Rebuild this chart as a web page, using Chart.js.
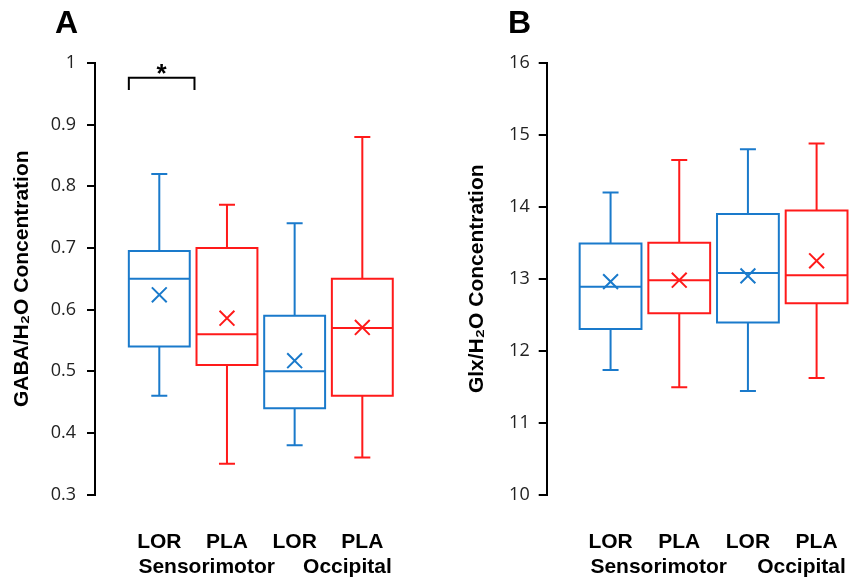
<!DOCTYPE html>
<html><head><meta charset="utf-8">
<script src="https://cdn.jsdelivr.net/npm/chart.js@4.4.1/dist/chart.umd.min.js"></script>
<style>
html,body{margin:0;padding:0;background:#fff;width:853px;height:582px;overflow:hidden}
#wa{position:absolute;left:0;top:0;width:430px;height:582px}
#wb{position:absolute;left:430px;top:0;width:423px;height:582px}
canvas{display:block}
</style></head><body>
<div id="wa"><canvas id="ca" width="430" height="582"></canvas></div>
<div id="wb"><canvas id="cb" width="423" height="582"></canvas></div>
<script>
// ---------- data ----------
const categories = ['LOR', 'PLA', 'LOR', 'PLA'];
const regions = ['Sensorimotor', 'Occipital'];
const positions = [1, 2, 3, 4];
const boxColors = ['#1a7acb', '#ff1a1a', '#1a7acb', '#ff1a1a'];

// Panel A: GABA/H2O
const gabaMin    = [0.46, 0.35, 0.38, 0.36];
const gabaQ1     = [0.54, 0.51, 0.44, 0.46];
const gabaMedian = [0.65, 0.56, 0.50, 0.57];
const gabaQ3     = [0.695, 0.70, 0.59, 0.65];
const gabaMax    = [0.82, 0.77, 0.74, 0.88];
const gabaMean   = [0.624, 0.586, 0.517, 0.571];
const gabaTicks  = [0.3, 0.4, 0.5, 0.6, 0.7, 0.8, 0.9, 1];

// Panel B: Glx/H2O
const glxMin    = [11.73, 11.49, 11.44, 11.62];
const glxQ1     = [12.30, 12.52, 12.39, 12.66];
const glxMedian = [12.89, 12.98, 13.08, 13.05];
const glxQ3     = [13.49, 13.50, 13.90, 13.95];
const glxMax    = [14.20, 14.65, 14.80, 14.88];
const glxMean   = [12.96, 12.98, 13.04, 13.25];
const glxTicks  = [10, 11, 12, 13, 14, 15, 16];

// significance bracket between the two sensorimotor boxes of panel A
const gabaSignificance = {from: 1, to: 2, label: '*'};

// ---------- drawing helpers ----------
const SANS = '"Liberation Sans", Arial, sans-serif';

function makeBoxPlugin(cfg) {
  return {
    id: 'boxplot_' + cfg.letter,
    beforeDatasetsDraw(chart) {
      const {ctx} = chart; const x = chart.scales.x, y = chart.scales.y;
      ctx.save();
      ctx.lineWidth = 2;
      ctx.lineCap = 'butt';
      cfg.min.forEach((_, i) => {
        const cx = x.getPixelForValue(cfg.pos[i]);
        const hw = x.getPixelForValue(cfg.pos[i] + 0.45) - cx;
        const yMin = y.getPixelForValue(cfg.min[i]);
        const yQ1 = y.getPixelForValue(cfg.q1[i]);
        const yMed = y.getPixelForValue(cfg.median[i]);
        const yQ3 = y.getPixelForValue(cfg.q3[i]);
        const yMax = y.getPixelForValue(cfg.max[i]);
        ctx.strokeStyle = cfg.colors[i];
        ctx.beginPath();
        ctx.rect(cx - hw, yQ3, 2 * hw, yQ1 - yQ3);
        ctx.moveTo(cx - hw, yMed); ctx.lineTo(cx + hw, yMed);
        ctx.moveTo(cx, yQ3); ctx.lineTo(cx, yMax);
        ctx.moveTo(cx - 8, yMax); ctx.lineTo(cx + 8, yMax);
        ctx.moveTo(cx, yQ1); ctx.lineTo(cx, yMin);
        ctx.moveTo(cx - 8, yMin); ctx.lineTo(cx + 8, yMin);
        ctx.stroke();
      });
      ctx.restore();
    },
    afterDraw(chart) {
      const {ctx} = chart; const x = chart.scales.x;
      ctx.save();
      ctx.fillStyle = '#000';
      // panel letter
      ctx.font = 'bold 32px ' + SANS;
      ctx.textAlign = 'left'; ctx.textBaseline = 'alphabetic';
      ctx.fillText(cfg.letter, cfg.letterX, 33);
      // region labels (second row under the x axis)
      ctx.font = 'bold 21px ' + SANS;
      ctx.textAlign = 'center';
      cfg.groups.forEach((g, i) => {
        ctx.fillText(g, x.getPixelForValue(cfg.groupAt[i]), 572.5);
      });
      // significance bracket
      if (cfg.sig) {
        const y = chart.scales.y;
        const x1 = x.getPixelForValue(cfg.sig.from - 0.45);
        const x2 = x.getPixelForValue(cfg.sig.to - 0.48);
        const yTop = y.getPixelForValue(0.976);
        const yLeg = y.getPixelForValue(0.956);
        ctx.strokeStyle = '#000'; ctx.lineWidth = 2;
        ctx.beginPath();
        ctx.moveTo(x1, yLeg); ctx.lineTo(x1, yTop); ctx.lineTo(x2, yTop); ctx.lineTo(x2, yLeg);
        ctx.stroke();
        ctx.font = 'bold 26px ' + SANS;
        ctx.fillText(cfg.sig.label, (x1 + x2) / 2, 82);
      }
      ctx.restore();
    }
  };
}

function makeChart(canvasId, o) {
  return new Chart(document.getElementById(canvasId), {
    type: 'scatter',
    data: {
      datasets: [{
        data: positions.map((p, i) => ({x: p, y: o.mean[i]})),
        pointStyle: 'crossRot',
        pointRadius: 10.5,
        pointBorderWidth: 2,
        pointBorderColor: boxColors,
        pointBackgroundColor: 'rgba(0,0,0,0)',
        showLine: false
      }]
    },
    options: {
      responsive: false,
      animation: false,
      devicePixelRatio: 1,
      events: [],
      layout: {autoPadding: false, padding: {top: 63, left: 0, right: 0, bottom: 0}},
      plugins: {legend: {display: false}, tooltip: {enabled: false}},
      scales: {
        x: {
          type: 'linear', min: o.xMin, max: o.xMax,
          afterBuildTicks: s => { s.ticks = positions.map(v => ({value: v})); },
          afterFit: s => { s.height = 87.5; s.paddingLeft = 0; s.paddingRight = 0; },
          grid: {display: false, drawTicks: true, tickLength: 35},
          border: {display: false},
          ticks: {
            autoSkip: false, maxRotation: 0, minRotation: 0, padding: 0,
            color: '#000',
            font: {family: SANS, weight: 'bold', size: 21},
            callback: (v, i) => categories[i]
          }
        },
        y: {
          type: 'linear', min: o.ticks[0], max: o.ticks[o.ticks.length - 1],
          afterBuildTicks: s => { s.ticks = o.ticks.map(v => ({value: v})); },
          afterFit: s => { s.width = o.axisWidth; },
          grid: {drawOnChartArea: false, drawTicks: true, tickLength: 8, color: '#000', lineWidth: 2},
          border: {display: true, color: '#000', width: 2},
          ticks: {
            padding: o.tickPad, color: '#222',
            font: {family: '"Open Sans", sans-serif', size: 18},
            callback: v => String(v)
          },
          title: {
            display: true, text: o.title, color: '#000',
            font: {family: SANS, weight: 'bold', size: 21},
            padding: {top: o.titlePad, bottom: 0}
          }
        }
      }
    },
    plugins: [makeBoxPlugin({
      letter: o.letter, letterX: o.letterX,
      pos: positions, colors: boxColors,
      min: o.min, q1: o.q1, median: o.median, q3: o.q3, max: o.max,
      groups: regions, groupAt: [1.7, 3.78], sig: o.sig
    })]
  });
}

makeChart('ca', {
  letter: 'A', letterX: 55, title: 'GABA/H\u2082O Concentration', titlePad: 10,
  xMin: 0.05, xMax: 5, axisWidth: 95, tickPad: 11, ticks: gabaTicks,
  min: gabaMin, q1: gabaQ1, median: gabaMedian, q3: gabaQ3, max: gabaMax, mean: gabaMean,
  sig: gabaSignificance
});
makeChart('cb', {
  letter: 'B', letterX: 78, title: 'Glx/H\u2082O Concentration', titlePad: 35,
  xMin: 0.07, xMax: 4.53, axisWidth: 116.7, tickPad: 9, ticks: glxTicks,
  min: glxMin, q1: glxQ1, median: glxMedian, q3: glxQ3, max: glxMax, mean: glxMean,
  sig: null
});
</script>
</body></html>
